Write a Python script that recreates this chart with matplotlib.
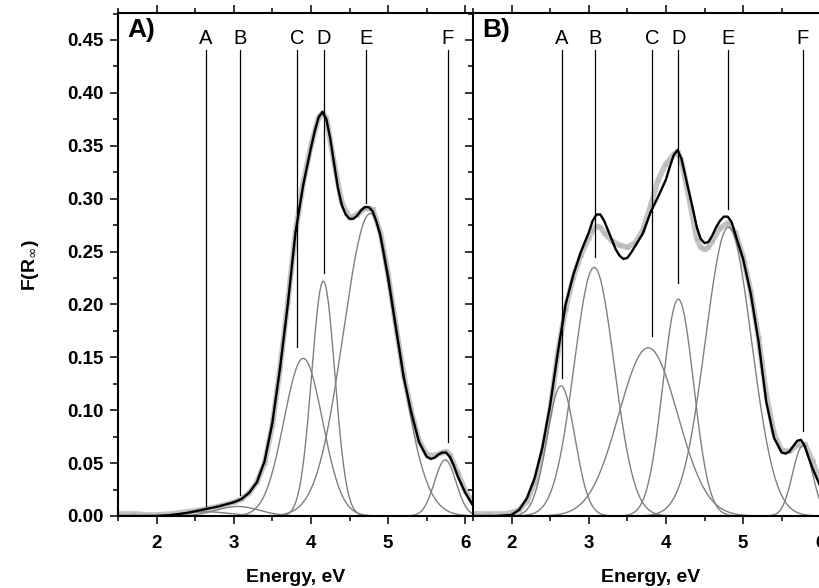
import numpy as np
import matplotlib
matplotlib.use("Agg")
import matplotlib.pyplot as plt
from matplotlib.ticker import MultipleLocator

plt.rcParams['font.family'] = ['Liberation Sans', 'DejaVu Sans']

# ---------------- data ----------------
labels = ['A', 'B', 'C', 'D', 'E', 'F']

# Panel A: Gaussian components (center eV, amplitude, sigma)
a_cent = [2.64, 3.05, 3.90, 4.16, 4.77, 5.74]
a_amp = [0.004, 0.009, 0.149, 0.222, 0.286, 0.053]
a_sig = [0.30, 0.28, 0.25, 0.15, 0.35, 0.14]
# marker lines
a_line_x = [2.64, 3.08, 3.82, 4.17, 4.71, 5.77]
a_line_bot = [0.009, 0.020, 0.160, 0.230, 0.296, 0.070]

# Panel A fit curve
a_fit_x = [1.5, 1.8, 2.0, 2.2, 2.4, 2.6, 2.8, 3.0, 3.1, 3.2, 3.3, 3.4, 3.5, 3.6, 3.7,
           3.8, 3.9, 4.0, 4.05, 4.1, 4.15, 4.2, 4.25, 4.3, 4.35, 4.4, 4.45, 4.5, 4.55,
           4.6, 4.65, 4.7, 4.75, 4.8, 4.85, 4.9, 5.0, 5.1, 5.2, 5.3, 5.4, 5.5, 5.55,
           5.6, 5.65, 5.7, 5.75, 5.8, 5.85, 5.9, 6.0, 6.1]
a_fit_y = [0.0, 0.0, 0.0, 0.001, 0.003, 0.006, 0.009, 0.013, 0.016, 0.022, 0.032, 0.052,
           0.088, 0.140, 0.200, 0.268, 0.313, 0.348, 0.364, 0.377, 0.382, 0.375, 0.357,
           0.333, 0.310, 0.294, 0.285, 0.281, 0.281, 0.284, 0.289, 0.292, 0.292, 0.288,
           0.278, 0.265, 0.225, 0.178, 0.132, 0.098, 0.070, 0.056, 0.054, 0.055, 0.058,
           0.060, 0.060, 0.056, 0.048, 0.038, 0.022, 0.010]
# Panel A measured data
a_exp_x = [1.5, 1.7, 1.9, 2.0, 2.2, 2.4, 2.6, 2.8, 3.0, 3.1, 3.2, 3.3, 3.4, 3.5, 3.6,
           3.7, 3.8, 3.9, 4.0, 4.1, 4.15, 4.2, 4.3, 4.4, 4.5, 4.6, 4.7, 4.8, 4.9, 5.0,
           5.1, 5.2, 5.3, 5.4, 5.5, 5.6, 5.7, 5.75, 5.8, 5.9, 6.0, 6.1]
a_exp_y = [0.002, 0.002, 0.001, 0.001, 0.002, 0.004, 0.006, 0.009, 0.013, 0.016, 0.022,
           0.032, 0.050, 0.086, 0.140, 0.202, 0.268, 0.315, 0.350, 0.377, 0.381, 0.376,
           0.334, 0.296, 0.282, 0.285, 0.291, 0.290, 0.268, 0.228, 0.180, 0.134, 0.099,
           0.071, 0.058, 0.057, 0.060, 0.061, 0.058, 0.041, 0.024, 0.012]

# Panel B: Gaussian components
b_cent = [2.64, 3.07, 3.77, 4.16, 4.81, 5.77]
b_amp = [0.123, 0.235, 0.159, 0.205, 0.273, 0.066]
b_sig = [0.18, 0.26, 0.38, 0.20, 0.30, 0.13]
b_line_x = [2.65, 3.08, 3.82, 4.16, 4.81, 5.77]
b_line_bot = [0.130, 0.245, 0.170, 0.220, 0.290, 0.080]

b_fit_x = [1.5, 1.8, 2.0, 2.1, 2.2, 2.3, 2.4, 2.5, 2.6, 2.7, 2.8, 2.9, 3.0, 3.05, 3.1,
           3.15, 3.2, 3.25, 3.3, 3.35, 3.4, 3.45, 3.5, 3.55, 3.6, 3.7, 3.8, 3.9, 4.0,
           4.05, 4.1, 4.15, 4.2, 4.25, 4.3, 4.35, 4.4, 4.45, 4.5, 4.55, 4.6, 4.65, 4.7,
           4.75, 4.8, 4.85, 4.9, 5.0, 5.1, 5.2, 5.3, 5.4, 5.5, 5.55, 5.6, 5.65, 5.7,
           5.75, 5.8, 5.85, 5.9, 6.0, 6.1]
b_fit_y = [0.0, 0.0, 0.001, 0.006, 0.017, 0.036, 0.065, 0.105, 0.155, 0.200, 0.228,
           0.250, 0.268, 0.279, 0.285, 0.285, 0.279, 0.270, 0.261, 0.252, 0.246, 0.243,
           0.244, 0.249, 0.255, 0.267, 0.287, 0.302, 0.318, 0.330, 0.341, 0.346, 0.338,
           0.322, 0.306, 0.290, 0.273, 0.262, 0.258, 0.259, 0.265, 0.273, 0.279, 0.283,
           0.283, 0.278, 0.266, 0.243, 0.210, 0.165, 0.108, 0.074, 0.060, 0.059, 0.061,
           0.066, 0.071, 0.072, 0.066, 0.055, 0.045, 0.028, 0.015]
b_exp_x = [1.5, 1.7, 1.9, 2.0, 2.1, 2.2, 2.3, 2.4, 2.5, 2.6, 2.7, 2.8, 2.9, 3.0, 3.05,
           3.1, 3.15, 3.2, 3.3, 3.4, 3.5, 3.6, 3.7, 3.8, 3.9, 4.0, 4.05, 4.1, 4.15, 4.2,
           4.3, 4.4, 4.45, 4.5, 4.55, 4.6, 4.7, 4.8, 4.9, 5.0, 5.1, 5.2, 5.3, 5.4, 5.5,
           5.6, 5.7, 5.8, 5.9, 6.0, 6.1]
b_exp_y = [0.002, 0.002, 0.002, 0.003, 0.006, 0.014, 0.032, 0.060, 0.100, 0.155, 0.196,
           0.226, 0.247, 0.263, 0.270, 0.274, 0.273, 0.268, 0.260, 0.256, 0.254, 0.258,
           0.270, 0.293, 0.318, 0.333, 0.337, 0.342, 0.344, 0.336, 0.300, 0.262, 0.254,
           0.252, 0.254, 0.260, 0.272, 0.277, 0.268, 0.245, 0.212, 0.168, 0.115, 0.078,
           0.062, 0.061, 0.067, 0.068, 0.052, 0.032, 0.018]

y_ticks = [0.00, 0.05, 0.10, 0.15, 0.20, 0.25, 0.30, 0.35, 0.40, 0.45]
x_ticks = [2, 3, 4, 5, 6]
panel_names = ['A)', 'B)']

# ---------------- figure ----------------
W, H = 819, 588
fig = plt.figure(figsize=(W / 100, H / 100), dpi=100)


def px_box(x0, y0, x1, y1):
    return [x0 / W, 1 - y1 / H, (x1 - x0) / W, (y1 - y0) / H]


axA = fig.add_axes(px_box(118, 13, 473, 516))
axB = fig.add_axes(px_box(473, 13, 828, 516))

xgrid = np.linspace(1.5, 6.1, 600)

panels = [
    (axA, a_cent, a_amp, a_sig, a_line_x, a_line_bot, a_fit_x, a_fit_y, a_exp_x, a_exp_y),
    (axB, b_cent, b_amp, b_sig, b_line_x, b_line_bot, b_fit_x, b_fit_y, b_exp_x, b_exp_y),
]

for i, (ax, cen, amp, sig, lx, lb, fx, fy, ex, ey) in enumerate(panels):
    ax.plot(ex, ey, color='#c4c4c4', lw=4.0, solid_capstyle='round', zorder=1)
    ax.plot(ex, ey, ls='none', marker='x', ms=3, mew=1, color='#b8b8b8', zorder=1)
    for c, a, s in zip(cen, amp, sig):
        ax.plot(xgrid, a * np.exp(-0.5 * ((xgrid - c) / s) ** 2), color='#808080', lw=1.0, zorder=2)
    ax.plot(fx, fy, color='black', lw=1.7, zorder=3, solid_joinstyle='round')
    for lab, x, yb in zip(labels, lx, lb):
        ax.plot([x, x], [yb, 0.4405], color='black', lw=0.9, zorder=4)
        ax.text(x, 0.4425, lab, ha='center', va='bottom', fontsize=14.5, zorder=5)
    ax.text(0.025, 0.99, panel_names[i], transform=ax.transAxes, ha='left', va='top',
            fontsize=19, fontweight='bold')

    ax.set_xlim(1.5, 6.1)
    ax.set_ylim(0, 0.4755)
    ax.set_xticks(x_ticks)
    ax.xaxis.set_minor_locator(MultipleLocator(0.5))
    ax.set_yticks(y_ticks)
    ax.yaxis.set_minor_locator(MultipleLocator(0.025))
    ax.tick_params(axis='both', which='major', direction='out', length=6, width=1.1,
                   labelsize=13.5, top=True, pad=4)
    ax.tick_params(axis='both', which='minor', direction='out', length=3.5, width=1.1, top=True)
    ax.tick_params(axis='x', which='major', pad=8)
    for sp in ax.spines.values():
        sp.set_linewidth(1.5)
    ax.spines['right'].set_visible(False)
    for lbl in ax.get_xticklabels() + ax.get_yticklabels():
        lbl.set_fontweight('bold')
    ax.set_xlabel('Energy, eV', fontsize=14, fontweight='bold', labelpad=12)

axB.tick_params(axis='y', labelleft=False)
axA.set_ylabel(r'F(R$_{\infty}$)', fontsize=14, fontweight='bold', labelpad=19)

fig.savefig('out.png', dpi=100)
